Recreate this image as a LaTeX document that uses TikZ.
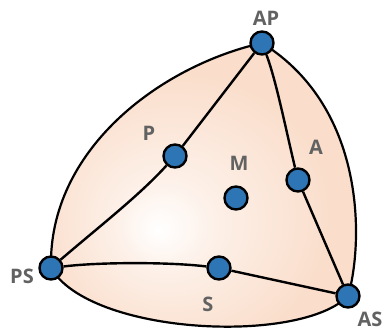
\documentclass[tikz,border=0pt]{standalone}
\usepackage{fontspec}
\setmainfont{Open Sans}
\usetikzlibrary{positioning,calc}

\definecolor{peach}{RGB}{250,221,202}
\definecolor{dotblue}{RGB}{46,117,182}
\definecolor{lblgray}{RGB}{98,98,98}

\pgfdeclareradialshading{peachglow}{\pgfpoint{-8bp}{-6bp}}{%
  color(0bp)=(white); color(8bp)=(white!55!peach); color(24bp)=(peach);
  color(50bp)=(peach)}

\begin{document}
\begin{tikzpicture}[x=1pt,y=-1pt,
    edge/.style={black, line width=2.4pt},
    rim/.style={black, line width=2.2pt},
    dot/.style={circle, draw=black, line width=2.4pt, fill=dotblue,
      minimum size=23pt, inner sep=0pt},
    lbl/.style={text=lblgray, font=\bfseries\fontsize{20}{20}\selectfont,
      inner sep=0pt}
  ]
  \useasboundingbox (0,0) rectangle (383,333);

  % Ecken
  \coordinate (ap) at (262,43);
  \coordinate (ps) at (51,268);
  \coordinate (as) at (348,296);

  % Umriss
  \draw[rim, shading=peachglow]
    (ap) .. controls (160,66) and (48,150) .. (ps)
    .. controls (90,335) and (300,345) .. (as)
    .. controls (362,250) and (370,110) .. (ap) -- cycle;

  % Punkte
  \node[dot] (AP) at (ap) {};
  \node[dot] (PS) at (ps) {};
  \node[dot] (AS) at (as) {};
  \node[dot] (P) at (175,156) {};
  \node[dot] (M) at (236,198) {};
  \node[dot] (A) at (298,180) {};
  \node[dot] (S) at (219,268) {};

  % Linien
  \draw[edge] (AP) -- (P);
  \draw[edge] (P) .. controls (140,195) and (95,230) .. (PS);
  \draw[edge] (AP) .. controls (276,80) and (286,130) .. (A);
  \draw[edge] (A) -- (AS);
  \draw[edge] (PS) .. controls (100,262) and (170,262) .. (S);
  \draw[edge] (S) -- (AS);

  % Beschriftungen
  \node[lbl] (lAP) at (266,18) {AP};
  \node[lbl] (lP) at (149,133) {P};
  \node[lbl] (lM) at (239,163) {M};
  \node[lbl] (lA) at (316,147) {A};
  \node[lbl] (lPS) at (22,276) {PS};
  \node[lbl] (lS) at (208,304) {S};
  \node[lbl] (lAS) at (370,319) {AS};
\end{tikzpicture}
\end{document}
